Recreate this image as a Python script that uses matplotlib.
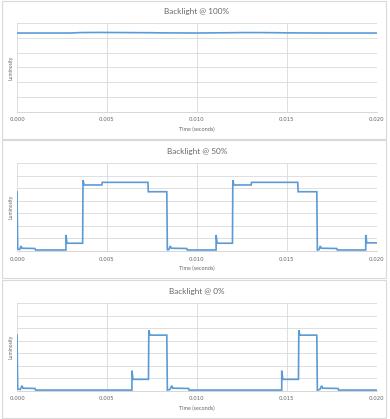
import matplotlib
matplotlib.use("Agg")
import matplotlib.pyplot as plt
from matplotlib.patches import Rectangle

plt.rcParams['font.family'] = ['Lato', 'DejaVu Sans']

titles = ["Backlight @ 100%", "Backlight @ 50%", "Backlight @ 0%"]
x_ticks = [0.000, 0.005, 0.010, 0.015, 0.020]
x_tick_labels = ["0.000", "0.005", "0.010", "0.015", "0.020"]

# Backlight @ 100%
t100 = [0.0, 0.0030, 0.0035, 0.0045, 0.0060, 0.0075, 0.0080, 0.0100, 0.0110, 0.0125,
        0.0135, 0.0145, 0.0150, 0.0170, 0.0180, 0.0200]
v100 = [5.34, 5.34, 5.37, 5.38, 5.37, 5.36, 5.35, 5.34, 5.35, 5.37,
        5.37, 5.36, 5.35, 5.34, 5.34, 5.34]

# Backlight @ 50%
t50 = [0.0, 0.00004, 0.00015, 0.00022, 0.00027, 0.0010, 0.00103, 0.00272,
       0.00272, 0.00278, 0.00365, 0.00367, 0.00373, 0.00472, 0.00474, 0.00728,
       0.00730, 0.00833, 0.00836, 0.00845, 0.00852, 0.00858, 0.00944, 0.00947,
       0.01107, 0.01107, 0.01113, 0.01198, 0.01200, 0.01206, 0.01302, 0.01304,
       0.01561, 0.01563, 0.01667, 0.01670, 0.01680, 0.01686, 0.01692, 0.01778,
       0.01781, 0.01939, 0.01939, 0.01945, 0.0200]
v50 = [4.73, 0.15, 0.12, 0.40, 0.22, 0.20, 0.08, 0.08,
       1.28, 0.62, 0.62, 5.66, 5.27, 5.27, 5.48, 5.48,
       4.73, 4.73, 0.08, 0.12, 0.40, 0.22, 0.20, 0.08,
       0.08, 1.28, 0.62, 0.62, 5.66, 5.27, 5.27, 5.48,
       5.48, 4.73, 4.73, 0.08, 0.12, 0.40, 0.22, 0.20,
       0.08, 0.08, 1.28, 0.65, 0.65]

# Backlight @ 0%
t0 = [0.0, 0.00004, 0.00018, 0.00028, 0.00033, 0.0010, 0.00103, 0.00639,
      0.00639, 0.00645, 0.00731, 0.00733, 0.00739, 0.00833, 0.00836, 0.00850,
      0.00861, 0.00866, 0.00954, 0.00957, 0.01472, 0.01472, 0.01478, 0.01565,
      0.01567, 0.01573, 0.01667, 0.01670, 0.01684, 0.01694, 0.01699, 0.01785,
      0.01788, 0.0200]
v0 = [4.47, 0.12, 0.10, 0.40, 0.20, 0.18, 0.05, 0.05,
      1.60, 0.91, 0.91, 4.85, 4.45, 4.45, 0.05, 0.10,
      0.40, 0.20, 0.18, 0.05, 0.05, 1.60, 0.91, 0.91,
      4.85, 4.45, 4.45, 0.05, 0.10, 0.40, 0.20, 0.18,
      0.05, 0.05]

series = [(t100, v100, 6), (t50, v50, 7), (t0, v0, 7)]

W, H = 390, 419
fig = plt.figure(figsize=(W / 100, H / 100), dpi=100)
fig.patch.set_facecolor("white")

boxes = [(1, 139), (140, 278), (280, 418)]
areas = [(23.3, 111.7), (163.3, 251.0), (303.3, 390.7)]
left_px, right_px = 17.0, 376.7

grid_c = "#D9D9D9"
text_c = "#666666"
line_c = "#5B9BD5"

for (btop, bbot) in boxes:
    fig.add_artist(Rectangle((1.5 / W, 1 - bbot / H), (386 - 1.5) / W, (bbot - btop) / H,
                             transform=fig.transFigure, fill=False,
                             edgecolor="#D9D9D9", linewidth=0.8))

for i, ((t, v, ymax), (top, bot)) in enumerate(zip(series, areas)):
    ax = fig.add_axes([left_px / W, 1 - bot / H, (right_px - left_px) / W, (bot - top) / H])
    ax.plot(t, v, color=line_c, linewidth=1.2, solid_joinstyle="miter")
    ax.set_xlim(0, 0.020)
    ax.set_ylim(0, ymax)
    ax.set_yticks(range(0, ymax + 1))
    ax.set_yticklabels([])
    ax.set_xticks(x_ticks)
    ax.set_xticklabels(x_tick_labels, fontsize=3.9, color=text_c,
                       family=['DejaVu Sans'])
    ax.tick_params(axis="both", length=0, pad=4)
    ax.grid(True, color=grid_c, linewidth=0.6)
    ax.set_axisbelow(True)
    for s in ["top", "right", "left"]:
        ax.spines[s].set_visible(False)
    ax.spines["bottom"].set_color("#D0D0D0")
    ax.spines["bottom"].set_linewidth(0.6)
    ax.set_xlabel("Time (seconds)", fontsize=4.0, color=text_c, labelpad=3)
    ax.set_ylabel("Luminosity", fontsize=3.6, color=text_c)
    ax.yaxis.set_label_coords(-3.0 / (right_px - left_px), 0.5)
    ax.set_title(titles[i], fontsize=5.9, color=text_c, pad=7)

fig.savefig("out.png", dpi=100, facecolor="white")
